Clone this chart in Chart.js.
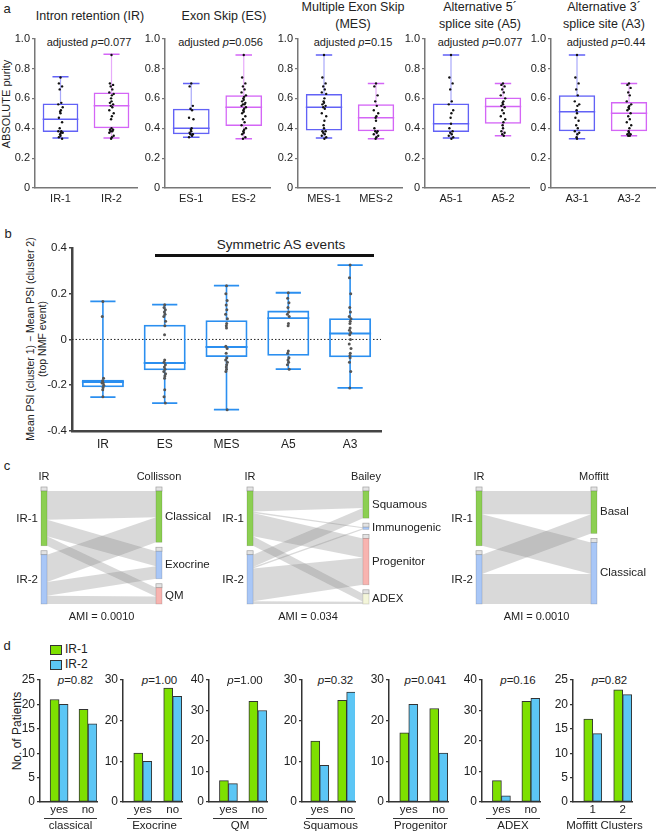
<!DOCTYPE html>
<html>
<head>
<meta charset="utf-8">
<script src="https://cdn.jsdelivr.net/npm/chart.js@4.4.1/dist/chart.umd.min.js"></script>
<style>
  body { margin:0; width:657px; height:831px; background:#fff; position:relative; overflow:hidden;
         font-family:"Liberation Sans", Arial, Helvetica, sans-serif; color:#222; }
  canvas { position:absolute; }
  .t { position:absolute; white-space:nowrap; line-height:1; }
</style>
</head>
<body>
<script>
// ---------- panel a : ABSOLUTE purity per AS-event cluster ----------
const aTitles = [['Intron retention (IR)'], ['Exon Skip (ES)'], ['Multiple Exon Skip', '(MES)'],
                 ['Alternative 5\u00B4', 'splice site (A5)'], ['Alternative 3\u00B4', 'splice site (A3)']];
const aPvals = ['0.077', '0.056', '0.15', '0.077', '0.44'];
const aLabels = [['IR-1', 'IR-2'], ['ES-1', 'ES-2'], ['MES-1', 'MES-2'], ['A5-1', 'A5-2'], ['A3-1', 'A3-2']];
const aMin = [[0.335, 0.335], [0.34, 0.33], [0.335, 0.33], [0.335, 0.35], [0.33, 0.35]];
const aQ1  = [[0.375, 0.40], [0.36, 0.415], [0.385, 0.38], [0.375, 0.43], [0.38, 0.38]];
const aMed = [[0.46, 0.55], [0.40, 0.54], [0.54, 0.47], [0.43, 0.545], [0.51, 0.50]];
const aQ3  = [[0.565, 0.64], [0.53, 0.62], [0.63, 0.56], [0.565, 0.605], [0.62, 0.575]];
const aMax = [[0.745, 0.895], [0.70, 0.89], [0.89, 0.70], [0.89, 0.70], [0.89, 0.70]];
const aDots = [
  [[0.74,0.70,0.68,0.66,0.57,0.56,0.54,0.52,0.51,0.50,0.47,0.44,0.40,0.38,0.38,0.37,0.37,0.36,0.35,0.34,0.33],
   [0.89,0.70,0.69,0.68,0.66,0.64,0.63,0.62,0.60,0.58,0.57,0.56,0.55,0.54,0.52,0.50,0.48,0.46,0.40,0.39,0.39,0.38,0.38,0.37,0.35,0.34,0.33]],
  [[0.70,0.68,0.55,0.53,0.52,0.47,0.46,0.40,0.39,0.38,0.37,0.36,0.36,0.35,0.34],
   [0.89,0.74,0.70,0.68,0.66,0.64,0.62,0.61,0.60,0.59,0.58,0.57,0.56,0.56,0.55,0.54,0.53,0.52,0.51,0.50,0.48,0.46,0.44,0.42,0.40,0.39,0.38,0.37,0.36,0.34,0.33]],
  [[0.89,0.74,0.70,0.68,0.66,0.64,0.63,0.60,0.58,0.57,0.56,0.55,0.54,0.53,0.50,0.48,0.45,0.42,0.40,0.38,0.38,0.37,0.36,0.35,0.34,0.33],
   [0.70,0.68,0.62,0.58,0.55,0.52,0.50,0.48,0.47,0.45,0.40,0.38,0.38,0.37,0.36,0.35,0.34,0.33]],
  [[0.89,0.74,0.70,0.66,0.58,0.56,0.52,0.50,0.47,0.43,0.40,0.38,0.37,0.36,0.35,0.34,0.33],
   [0.70,0.69,0.68,0.66,0.64,0.62,0.60,0.58,0.57,0.56,0.55,0.54,0.52,0.50,0.48,0.46,0.44,0.42,0.40,0.38,0.37,0.36,0.35]],
  [[0.89,0.74,0.70,0.66,0.62,0.58,0.56,0.55,0.52,0.50,0.47,0.45,0.42,0.40,0.38,0.37,0.36,0.34,0.33],
   [0.70,0.69,0.67,0.64,0.62,0.58,0.56,0.55,0.54,0.53,0.52,0.50,0.48,0.46,0.44,0.42,0.40,0.38,0.37,0.36,0.36,0.35,0.35]]
];

// ---------- panel b : PSI difference per AS-event type ----------
const bLabels = ['IR', 'ES', 'MES', 'A5', 'A3'];
const bMin = [-0.252, -0.278, -0.307, -0.130, -0.212];
const bQ1  = [-0.209, -0.135, -0.077, -0.071, -0.078];
const bMed = [-0.186, -0.103, -0.033, 0.093, 0.026];
const bQ3  = [-0.176, 0.064, 0.084, 0.126, 0.093];
const bMax = [0.166, 0.152, 0.235, 0.204, 0.325];
const bDots = [
  [0.166,0.10,-0.17,-0.18,-0.19,-0.19,-0.20,-0.21,-0.22,-0.25],
  [0.152,0.14,0.13,0.12,0.11,0.10,0.08,0.06,0.02,-0.09,-0.10,-0.11,-0.12,-0.13,-0.14,-0.15,-0.16,-0.17,-0.22,-0.25,-0.278],
  [0.235,0.20,0.17,0.15,0.13,0.11,0.09,0.07,0.06,0.05,-0.03,-0.04,-0.06,-0.08,-0.09,-0.10,-0.11,-0.12,-0.13,-0.14,-0.307],
  [0.204,0.18,0.16,0.14,0.12,0.11,0.10,0.07,0.06,-0.05,-0.06,-0.08,-0.09,-0.10,-0.11,-0.13],
  [0.325,0.27,0.20,0.14,0.12,0.10,0.09,0.08,0.07,0.05,0.04,0.03,0.02,0.00,-0.02,-0.04,-0.06,-0.07,-0.08,-0.10,-0.14,-0.212]
];

// ---------- panel c : IR clusters vs published subtypes ----------
const cSources = ['IR-1', 'IR-2'];
const cHeads = ['Collisson', 'Bailey', 'Moffitt'];
const cTargets = [['Classical', 'Exocrine', 'QM'], ['Squamous', 'Immunogenic', 'Progenitor', 'ADEX'], ['Basal', 'Classical']];
// rows: IR-1, IR-2 ; columns: target subtypes
const cFlows = [
  [[21, 12, 7], [20, 10, 6]],
  [[15, 1, 17, 7], [9, 1, 24, 2]],
  [[17, 23], [14, 22]]
];
const cAmi = ['0.0010', '0.034', '0.0010'];

// ---------- panel d : patient counts ----------
const dGroups = ['classical', 'Exocrine', 'QM', 'Squamous', 'Progenitor', 'ADEX', 'Moffitt Clusters'];
const dTicks = [['yes','no'],['yes','no'],['yes','no'],['yes','no'],['yes','no'],['yes','no'],['1','2']];
const dIR1 = [[21, 19], [12, 28], [7, 33], [15, 25], [17, 23], [7, 33], [17, 23]];
const dIR2 = [[20, 16], [10, 26], [6, 30], [9, 27], [24, 12], [2, 34], [14, 22]];
const dMax = [25, 30, 40, 30, 30, 40, 25];
const dStep = [5, 10, 10, 10, 10, 10, 5];
const dP = ['0.82', '1.00', '1.00', '0.32', '0.041', '0.16', '0.82'];

// ---------- layout ----------
const FONT = '"Liberation Sans", Arial, Helvetica, sans-serif';
Chart.defaults.font.family = FONT;
Chart.defaults.color = '#222';
Chart.defaults.animation = false;

const aAxisX = [35, 165, 298, 425, 551], aAxisEnd = [137, 270, 402, 529, 655];
const aTitleX = [90, 224, 353, 480, 604];
const aCol = ['#6262f6', '#d466f6'], aWhisk = ['rgba(98,98,246,0.55)', 'rgba(212,102,246,0.55)'];
const bCol = '#2b8ff0';
const cLeft = [41, 247, 476], cRight = [162, 369, 597];
const dAxisX = [40, 123, 209, 302, 389, 482, 573], dAxisEnd = [97, 182, 267, 355, 448, 540, 632];
const GREEN = '#7ee000', BLUE = '#5cc6f5';
const JIT = [0, -1.6, 1.6, -0.8, 0.8, -2.2, 2.2, 0.4, -0.4];

function mkCanvas(x, y, w, h) {
  const c = document.createElement('canvas');
  c.width = w; c.height = h;
  c.style.left = x + 'px'; c.style.top = y + 'px';
  c.style.width = w + 'px'; c.style.height = h + 'px';
  document.body.appendChild(c);
  return c;
}
function txt(x, y, html, size, align, extra) {
  const d = document.createElement('div');
  d.className = 't';
  d.innerHTML = html;
  d.style.fontSize = size + 'px';
  d.style.left = x + 'px'; d.style.top = y + 'px';
  const tx = align === 'left' ? '0' : align === 'right' ? '-100%' : '-50%';
  d.style.transform = 'translate(' + tx + ',-50%)' + (extra || '');
  document.body.appendChild(d);
  return d;
}

// box, whiskers, median and dots drawn on top of the floating [q1,q3] bars
function boxPlugin(s) {
  return {
    id: 'boxWhisker',
    beforeDatasetsDraw(chart) {
      if (!s.zeroLine) return;
      const ctx = chart.ctx, a = chart.chartArea, y0 = chart.scales.y.getPixelForValue(0);
      ctx.save();
      ctx.strokeStyle = '#222'; ctx.lineWidth = 1; ctx.setLineDash([1.5, 2]);
      ctx.beginPath(); ctx.moveTo(a.left, y0); ctx.lineTo(a.right, y0); ctx.stroke();
      ctx.restore();
    },
    afterDatasetsDraw(chart) {
      const ctx = chart.ctx, ys = chart.scales.y;
      chart.getDatasetMeta(0).data.forEach((bar, i) => {
        const cx = bar.x, w = bar.width, P = v => ys.getPixelForValue(v);
        ctx.save();
        ctx.lineWidth = s.whiskerWidth;
        ctx.strokeStyle = s.whisker[i % s.whisker.length];
        ctx.beginPath();
        ctx.moveTo(cx, P(s.q3[i])); ctx.lineTo(cx, P(s.max[i]));
        ctx.moveTo(cx, P(s.q1[i])); ctx.lineTo(cx, P(s.min[i]));
        ctx.stroke();
        ctx.strokeStyle = s.color[i % s.color.length];
        ctx.lineWidth = s.lineWidth;
        const cw = w * s.cap / 2;
        ctx.beginPath();
        ctx.moveTo(cx - cw, P(s.max[i])); ctx.lineTo(cx + cw, P(s.max[i]));
        ctx.moveTo(cx - cw, P(s.min[i])); ctx.lineTo(cx + cw, P(s.min[i]));
        ctx.moveTo(cx - w / 2, P(s.med[i])); ctx.lineTo(cx + w / 2, P(s.med[i]));
        ctx.stroke();
        ctx.fillStyle = s.dotColor;
        s.dots[i].forEach((v, j) => {
          ctx.beginPath();
          ctx.arc(cx + JIT[j % JIT.length] * s.jit, P(v), s.dotR, 0, Math.PI * 2);
          ctx.fill();
        });
        ctx.restore();
      });
    }
  };
}

// ---------- panel a charts ----------
txt(7, 8, 'a', 13);
txt(6, 104, 'ABSOLUTE purity', 11, 'center', ' rotate(-90deg)');
aLabels.forEach((labels, k) => {
  const t = aTitles[k];
  if (t.length === 1) txt(aTitleX[k], 16, t[0], 12.5);
  else { txt(aTitleX[k], 7, t[0], 12.5); txt(aTitleX[k], 24, t[1], 12.5); }
  txt((aAxisX[k] + aAxisEnd[k]) / 2 + 3, 42, 'adjusted <i>p</i>=' + aPvals[k], 11);

  const L = aAxisX[k] - 30;
  const cv = mkCanvas(L, 30, aAxisEnd[k] - aAxisX[k] + 32, 178);
  new Chart(cv, {
    type: 'bar',
    data: {
      labels: labels,
      datasets: [{
        data: labels.map((_, i) => [aQ1[k][i], aQ3[k][i]]),
        backgroundColor: 'rgba(255,255,255,0)',
        borderColor: aCol, borderWidth: 1.5, borderSkipped: false,
        barPercentage: 0.7, categoryPercentage: 1
      }]
    },
    options: {
      responsive: false, devicePixelRatio: 1,
      layout: { padding: { top: 8, right: 2, left: 0, bottom: 0 } },
      plugins: { legend: { display: false }, tooltip: { enabled: false } },
      scales: {
        x: {
          grid: { display: false, drawTicks: false },
          border: { color: '#777', width: 1.5 },
          ticks: { font: { size: 11 }, color: '#222', padding: 4 },
          afterFit: s => { s.height = 20; }
        },
        y: {
          min: 0, max: 1,
          ticks: { stepSize: 0.2, font: { size: 11 }, color: '#222', padding: 2,
                   callback: v => Math.abs(v) < 1e-9 ? '0' : v.toFixed(1) },
          grid: { drawOnChartArea: false, tickLength: 3, color: '#777', lineWidth: 1.2 },
          border: { color: '#777', width: 1.5 },
          afterFit: s => { s.width = 30; }
        }
      }
    },
    plugins: [boxPlugin({
      min: aMin[k], q1: aQ1[k], med: aMed[k], q3: aQ3[k], max: aMax[k], dots: aDots[k],
      color: aCol, whisker: aWhisk, whiskerWidth: 1.2, lineWidth: 1.5, cap: 0.45,
      dotColor: '#111', dotR: 1.2, jit: 1
    })]
  });
});

// ---------- panel b chart ----------
txt(8, 233, 'b', 13);
txt(30, 339, 'Mean PSI (cluster 1) \u2212 Mean PSI (cluster 2)', 10.5, 'center', ' rotate(-90deg)');
txt(42, 339, '(top NMF event)', 10.5, 'center', ' rotate(-90deg)');
txt(281, 245, 'Symmetric AS events', 13.5);
(function () {
  const bar = document.createElement('div');
  bar.style.cssText = 'position:absolute;left:155px;top:254px;width:219px;height:2.5px;background:#111;';
  document.body.appendChild(bar);
})();
new Chart(mkCanvas(42, 239, 341, 214), {
  type: 'bar',
  data: {
    labels: bLabels,
    datasets: [{
      data: bLabels.map((_, i) => [bQ1[i], bQ3[i]]),
      backgroundColor: 'rgba(255,255,255,0)',
      borderColor: bCol, borderWidth: 1.8, borderSkipped: false,
      barPercentage: 0.68, categoryPercentage: 1
    }]
  },
  options: {
    responsive: false, devicePixelRatio: 1,
    layout: { padding: { top: 8, right: 2, left: 0, bottom: 0 } },
    plugins: { legend: { display: false }, tooltip: { enabled: false } },
    scales: {
      x: {
        grid: { display: false, drawTicks: false },
        border: { color: '#444', width: 2.5 },
        ticks: { font: { size: 12 }, color: '#222', padding: 6 },
        afterFit: s => { s.height = 22; }
      },
      y: {
        min: -0.4, max: 0.4,
        ticks: { stepSize: 0.2, font: { size: 11.5 }, color: '#222', padding: 2,
                 callback: v => Math.abs(v) < 1e-9 ? '0' : v.toFixed(1) },
        grid: { drawOnChartArea: false, tickLength: 3, color: '#444', lineWidth: 1.5 },
        border: { color: '#444', width: 2.5 },
        afterFit: s => { s.width = 30; }
      }
    }
  },
  plugins: [boxPlugin({
    min: bMin, q1: bQ1, med: bMed, q3: bQ3, max: bMax, dots: bDots,
    color: [bCol], whisker: [bCol], whiskerWidth: 1.6, lineWidth: 1.8, cap: 0.6,
    dotColor: '#555', dotR: 1.5, jit: 0.4, zeroLine: true
  })]
});

// ---------- panel c : alluvial diagrams ----------
txt(7, 465, 'c', 13);
const SPAN = 117, HEAD = 4, GAP = 5, BW = 0.05;
const srcColors = ['#8ccf52', '#a9c7f7'];
const tgtColors = [['#8ccf52', '#a9c7f7', '#f8b4b0'], ['#8ccf52', '#a9c7f7', '#f8b4b0', '#f4f6da'], ['#8ccf52', '#a9c7f7']];

function column(counts) {
  const n = counts.length, T = counts.reduce((a, b) => a + b, 0);
  const k = (SPAN - n * HEAD - (n - 1) * GAP) / T;
  const top = [], bar = [], end = [];
  let y = 0;
  counts.forEach(c => { top.push(y); bar.push(y + HEAD); end.push(y + HEAD + c * k); y += HEAD + c * k + GAP; });
  return { k, top, bar, end };
}

function alluvialPlugin(m) {
  return {
    id: 'alluvial',
    afterDraw(chart) {
      const F = cFlows[m], ctx = chart.ctx, xs = chart.scales.x, ys = chart.scales.y;
      const Y = v => ys.getPixelForValue(v);
      const left = column(F.map(r => r.reduce((a, b) => a + b, 0)));
      const right = column(F[0].map((_, j) => F.reduce((a, r) => a + r[j], 0)));
      const xL0 = xs.getPixelForValue(0), xL1 = xs.getPixelForValue(BW);
      const xR0 = xs.getPixelForValue(1 - BW), xR1 = xs.getPixelForValue(1);
      ctx.save();
      // links
      const so = left.top.map(() => 0), to = right.top.map(() => 0);
      ctx.fillStyle = 'rgba(128,128,128,0.3)';
      F.forEach((row, i) => row.forEach((v, j) => {
        if (!v) return;
        const a0 = left.bar[i] + so[i], a1 = a0 + v * left.k; so[i] += v * left.k;
        const b0 = right.bar[j] + to[j], b1 = b0 + v * right.k; to[j] += v * right.k;
        ctx.beginPath();
        ctx.moveTo(xL1, Y(a0)); ctx.lineTo(xR0, Y(b0)); ctx.lineTo(xR0, Y(b1)); ctx.lineTo(xL1, Y(a1));
        ctx.closePath(); ctx.fill();
      }));
      // nodes
      const node = (x0, x1, col, i, fill) => {
        ctx.fillStyle = '#e3e3e3'; ctx.strokeStyle = '#a2a2a2'; ctx.lineWidth = 0.7;
        ctx.fillRect(x0, Y(col.top[i]), x1 - x0, Y(col.bar[i]) - Y(col.top[i]));
        ctx.strokeRect(x0, Y(col.top[i]), x1 - x0, Y(col.bar[i]) - Y(col.top[i]));
        ctx.fillStyle = fill; ctx.strokeStyle = 'rgba(0,0,0,0.18)';
        ctx.fillRect(x0, Y(col.bar[i]), x1 - x0, Y(col.end[i]) - Y(col.bar[i]));
        ctx.strokeRect(x0, Y(col.bar[i]), x1 - x0, Y(col.end[i]) - Y(col.bar[i]));
      };
      left.top.forEach((_, i) => node(xL0, xL1, left, i, srcColors[i]));
      right.top.forEach((_, j) => node(xR0, xR1, right, j, tgtColors[m][j]));
      // labels
      ctx.fillStyle = '#222'; ctx.font = '11.5px ' + FONT; ctx.textBaseline = 'middle';
      ctx.textAlign = 'right';
      cSources.forEach((s, i) => ctx.fillText(s, xL0 - 3, (Y(left.bar[i]) + Y(left.end[i])) / 2));
      ctx.textAlign = 'left';
      cTargets[m].forEach((s, j) => ctx.fillText(s, xR1 + 3, (Y(right.bar[j]) + Y(right.end[j])) / 2));
      ctx.textAlign = 'center';
      ctx.font = '11px ' + FONT;
      const top = Y(0), bot = Y(SPAN);
      ctx.fillText('IR', (xL0 + xL1) / 2, top - 10);
      ctx.fillText(cHeads[m], (xR0 + xR1) / 2, top - 10);
      ctx.fillText('AMI = ' + cAmi[m], (xL0 + xR1) / 2, bot + 13);
      ctx.restore();
    }
  };
}

cHeads.forEach((h, m) => {
  const x = cLeft[m] - 40, w = cRight[m] - cLeft[m] + 120;
  new Chart(mkCanvas(x, 470, w, 155), {
    type: 'scatter',
    data: { datasets: [{ data: [] }] },
    options: {
      responsive: false, devicePixelRatio: 1,
      layout: { padding: { left: 40, right: 80, top: 17, bottom: 21 } },
      plugins: { legend: { display: false }, tooltip: { enabled: false } },
      scales: {
        x: { type: 'linear', min: 0, max: 1, display: false },
        y: { type: 'linear', min: 0, max: SPAN, reverse: true, display: false }
      }
    },
    plugins: [alluvialPlugin(m)]
  });
});

// ---------- panel d : bar charts ----------
txt(7, 645, 'd', 13);
(function legend() {
  [['IR-1', GREEN, 649], ['IR-2', BLUE, 664]].forEach(([lab, col, y]) => {
    const sq = document.createElement('div');
    sq.style.cssText = 'position:absolute;left:50px;top:' + (y - 4.5) + 'px;width:10px;height:8px;border:1px solid #333;background:' + col + ';';
    document.body.appendChild(sq);
    txt(65, y, lab, 12, 'left');
  });
})();
txt(17, 731, 'No. of Patients', 12, 'center', ' rotate(-90deg)');

const groupLabel = {
  id: 'groupLabel',
  afterDraw(chart, args, o) {
    const ctx = chart.ctx, a = chart.chartArea;
    ctx.save();
    ctx.strokeStyle = '#333'; ctx.lineWidth = 1;
    ctx.beginPath(); ctx.moveTo(a.left + 4, a.bottom + 16.5); ctx.lineTo(a.right, a.bottom + 16.5); ctx.stroke();
    ctx.fillStyle = '#222'; ctx.font = '11.5px ' + FONT; ctx.textAlign = 'center'; ctx.textBaseline = 'middle';
    ctx.fillText(o.text, (a.left + 4 + a.right) / 2, a.bottom + 23.5);
    ctx.restore();
  }
};

dGroups.forEach((g, k) => {
  const L = dAxisX[k] - 28;
  txt((dAxisX[k] + dAxisEnd[k]) / 2 + 7, 681, '<i>p</i>=' + dP[k], 11.5);
  new Chart(mkCanvas(L, 670, dAxisEnd[k] - dAxisX[k] + 46, 161), {
    type: 'bar',
    data: {
      datasets: [
        { label: 'IR-1', data: dIR1[k].map((v, i) => ({ x: i + 1, y: v })), backgroundColor: GREEN, borderColor: '#333', borderWidth: 1, borderSkipped: false, barThickness: 9 },
        { label: 'IR-2', data: dIR2[k].map((v, i) => ({ x: i + 1, y: v })), backgroundColor: BLUE, borderColor: '#333', borderWidth: 1, borderSkipped: false, barThickness: 9 }
      ]
    },
    options: {
      responsive: false, devicePixelRatio: 1,
      layout: { padding: { top: 10, right: 18, left: 0, bottom: 0 } },
      plugins: { legend: { display: false }, tooltip: { enabled: false }, groupLabel: { text: g } },
      scales: {
        x: {
          type: 'linear', min: 0.34, max: 2.31, offset: false,
          afterBuildTicks: s => { s.ticks = [{ value: 1 }, { value: 2 }]; },
          grid: { display: false, offset: false, drawTicks: false },
          border: { color: '#333', width: 1.5 },
          ticks: { font: { size: 11.5 }, color: '#222', padding: 1, autoSkip: false, maxRotation: 0,
                   callback: v => dTicks[k][Math.round(v) - 1] },
          afterFit: s => { s.height = 29; }
        },
        y: {
          min: 0, max: dMax[k],
          ticks: { stepSize: dStep[k], font: { size: 12 }, color: '#222', padding: 2 },
          grid: { drawOnChartArea: false, tickLength: 3, color: '#333', lineWidth: 1.2 },
          border: { color: '#333', width: 1.5 },
          afterFit: s => { s.width = 28; }
        }
      }
    },
    plugins: [groupLabel]
  });
});
</script>
</body>
</html>
